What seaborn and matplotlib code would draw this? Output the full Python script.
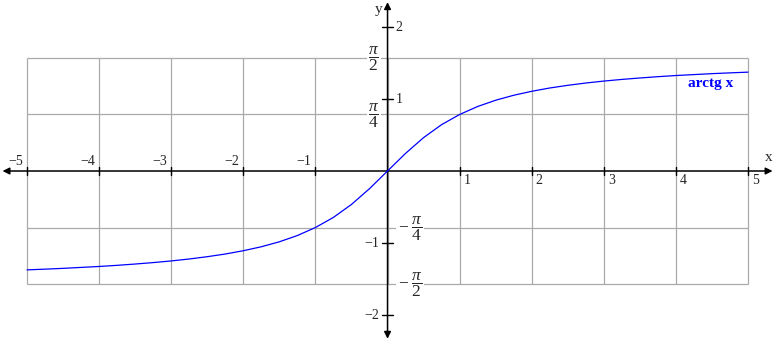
import numpy as np
import pandas as pd
import matplotlib
matplotlib.use("Agg")
import matplotlib.pyplot as plt
import seaborn as sns

# values
x_vals = [-5, -4.75, -4.5, -4.25, -4, -3.75, -3.5, -3.25, -3, -2.75, -2.5, -2.25,
          -2, -1.75, -1.5, -1.25, -1, -0.75, -0.5, -0.25, 0, 0.25, 0.5, 0.75,
          1, 1.25, 1.5, 1.75, 2, 2.25, 2.5, 2.75, 3, 3.25, 3.5, 3.75, 4, 4.25,
          4.5, 4.75, 5]
y_vals = [-1.373, -1.363, -1.352, -1.339, -1.326, -1.310, -1.292, -1.272, -1.249,
          -1.222, -1.190, -1.153, -1.107, -1.052, -0.983, -0.896, -0.785, -0.644,
          -0.464, -0.245, 0.0, 0.245, 0.464, 0.644, 0.785, 0.896, 0.983, 1.052,
          1.107, 1.153, 1.190, 1.222, 1.249, 1.272, 1.292, 1.310, 1.326, 1.339,
          1.352, 1.363, 1.373]

x_ticks = [-5, -4, -3, -2, -1, 1, 2, 3, 4, 5]
y_ticks = [-2, -1, 1, 2]
grid_x = [-5, -4, -3, -2, -1, 0, 1, 2, 3, 4, 5]
grid_y = [-np.pi / 2, -np.pi / 4, np.pi / 4, np.pi / 2]
pi_labels = [r"$\dfrac{\pi}{2}$", r"$\dfrac{\pi}{4}$", r"$-\ \dfrac{\pi}{4}$", r"$-\ \dfrac{\pi}{2}$"]
pi_pos = [np.pi / 2, np.pi / 4, -np.pi / 4, -np.pi / 2]

sns.set_style("white")
plt.rcParams["font.family"] = ["Liberation Serif", "DejaVu Serif"]
plt.rcParams["mathtext.fontset"] = "custom"
plt.rcParams["mathtext.rm"] = "Liberation Serif"
plt.rcParams["mathtext.it"] = "Liberation Serif:italic"

fig = plt.figure(figsize=(7.74, 3.41), dpi=100)
ax = fig.add_axes([0, 0, 1, 1])
ax.set_xlim(-5.375, 5.36)
ax.set_ylim(-2.361, 2.375)
ax.axis("off")

gray = "#aaaaaa"
ax.vlines(grid_x, -np.pi / 2, np.pi / 2, color=gray, lw=0.9, zorder=1)
ax.hlines(grid_y, -5, 5, color=gray, lw=0.9, zorder=1)

# axes with arrows
arrow = dict(arrowstyle="-|>", color="black", lw=1.1, mutation_scale=10, shrinkA=0, shrinkB=0)
ax.annotate("", xy=(5.34, 0), xytext=(0, 0), arrowprops=arrow, zorder=3)
ax.annotate("", xy=(-5.34, 0), xytext=(0, 0), arrowprops=arrow, zorder=3)
ax.annotate("", xy=(0, 2.345), xytext=(0, 0), arrowprops=arrow, zorder=3)
ax.annotate("", xy=(0, -2.33), xytext=(0, 0), arrowprops=arrow, zorder=3)

df = pd.DataFrame({"x": x_vals, "y": y_vals})
sns.lineplot(data=df, x="x", y="y", color="blue", lw=0.9, ax=ax, zorder=4)

fs = 10
for t in x_ticks:
    ax.plot([t, t], [-0.06, 0.06], color="black", lw=1, zorder=3)
    lab = f"\u2212{abs(t)}" if t < 0 else str(t)
    if t < 0:
        ax.annotate(lab, (t, 0), xytext=(-4, 3), textcoords="offset pixels",
                    ha="right", va="bottom", fontsize=fs)
    else:
        ax.annotate(lab, (t, 0), xytext=(4, -3), textcoords="offset pixels",
                    ha="left", va="top", fontsize=fs)

for t in y_ticks:
    ax.plot([-0.07, 0.07], [t, t], color="black", lw=1, zorder=3)
    if t > 0:
        ax.annotate(str(t), (0, t), xytext=(8, 0), textcoords="offset pixels",
                    ha="left", va="center", fontsize=fs)
    else:
        ax.annotate(f"\u2212{abs(t)}", (0, t), xytext=(-8, 0), textcoords="offset pixels",
                    ha="right", va="center", fontsize=fs)

for lab, p in zip(pi_labels, pi_pos):
    if p > 0:
        ax.annotate(lab, (0, p), xytext=(-8, -1), textcoords="offset pixels",
                    ha="right", va="center", fontsize=12.5,
                    bbox=dict(fc="white", ec="none", pad=1), zorder=2)
    else:
        ax.annotate(lab, (0, p), xytext=(10, -1), textcoords="offset pixels",
                    ha="left", va="center", fontsize=12.5,
                    bbox=dict(fc="white", ec="none", pad=1), zorder=2)

ax.text(5.28, 0.1, "x", fontsize=11, ha="center", va="bottom")
ax.text(-0.07, 2.24, "y", fontsize=11, ha="right", va="center")
ax.text(4.17, 1.22, "arctg x", color="blue", fontsize=11, fontweight="bold",
        ha="left", va="center")

fig.savefig("out.png", dpi=100)
